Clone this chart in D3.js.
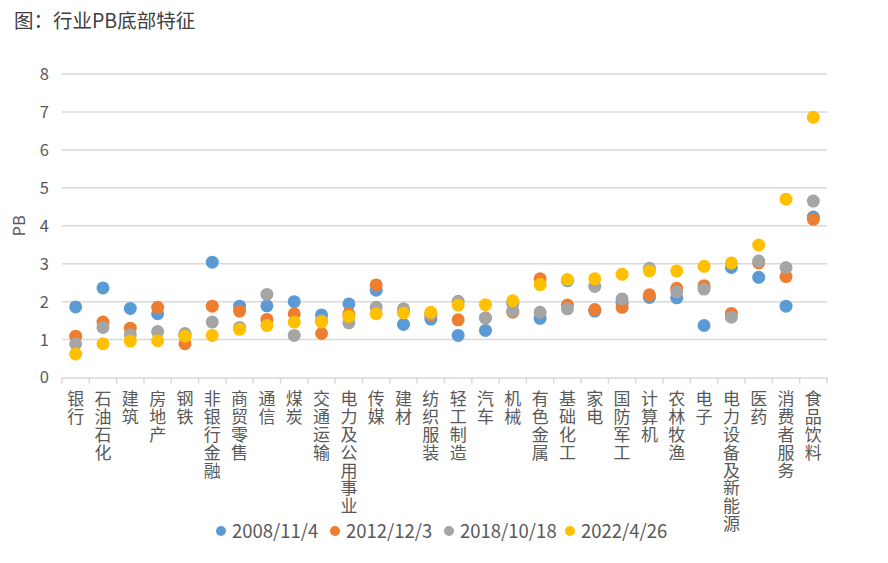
<!DOCTYPE html>
<html>
<head>
<meta charset="utf-8">
<script src="https://cdn.jsdelivr.net/npm/d3@7"></script>
<style>
  html, body { margin: 0; padding: 0; background: #fff; }
  svg { display: block; font-family: "Noto Sans CJK SC", "Noto Sans", sans-serif; }
</style>
</head>
<body>
<svg id="chart" width="888" height="563"></svg>
<script>
const categories = ["银行","石油石化","建筑","房地产","钢铁","非银行金融","商贸零售","通信","煤炭","交通运输","电力及公用事业","传媒","建材","纺织服装","轻工制造","汽车","机械","有色金属","基础化工","家电","国防军工","计算机","农林牧渔","电子","电力设备及新能源","医药","消费者服务","食品饮料"];
const seriesNames = ["2008/11/4","2012/12/3","2018/10/18","2022/4/26"];
const s2008 = [1.86,2.36,1.82,1.68,1.12,3.04,1.88,1.89,2.00,1.65,1.94,2.30,1.40,1.54,1.11,1.24,1.96,1.56,2.55,1.75,1.96,2.11,2.10,1.37,2.90,2.64,1.88,4.23];
const s2012 = [1.09,1.46,1.30,1.85,0.89,1.88,1.75,1.53,1.68,1.16,1.68,2.44,1.75,1.65,1.52,1.57,1.72,2.60,1.91,1.79,1.85,2.18,2.35,2.42,1.69,3.02,2.66,4.17];
const s2018 = [0.89,1.32,1.13,1.21,1.16,1.46,1.32,2.19,1.11,1.50,1.44,1.85,1.81,1.68,2.01,1.57,1.75,1.72,1.81,2.40,2.07,2.88,2.26,2.33,1.59,3.07,2.90,4.65];
const s2022 = [0.62,0.89,0.96,0.97,1.09,1.11,1.27,1.37,1.46,1.46,1.61,1.68,1.70,1.72,1.91,1.92,2.02,2.45,2.58,2.60,2.72,2.81,2.81,2.93,3.02,3.49,4.70,6.86];
const yTicks = [0,1,2,3,4,5,6,7,8];
const colors = ["#5B9BD5","#ED7D31","#A5A5A5","#FFC000"];
const allSeries = [s2008, s2012, s2018, s2022];

const svg = d3.select("#chart");
const plotL = 62, plotR = 827, plotT = 74, plotB = 377.5;

const x = d3.scaleBand().domain(categories).range([plotL, plotR]).paddingInner(0).paddingOuter(0);
const y = d3.scaleLinear().domain([0, 8]).range([plotB, plotT]);

// title
svg.append("text").attr("x", 14).attr("y", 28)
  .attr("font-size", 19.5).attr("fill", "#404040")
  .text("图：行业PB底部特征");

// gridlines
svg.append("g").selectAll("line").data(yTicks.filter(d => d > 0)).join("line")
  .attr("x1", plotL).attr("x2", plotR)
  .attr("y1", d => y(d)).attr("y2", d => y(d))
  .attr("stroke", "#d9d9d9").attr("stroke-width", 1.5);

// y axis labels
svg.append("g").selectAll("text").data(yTicks).join("text")
  .attr("x", 49).attr("y", d => y(d)).attr("dy", "0.36em")
  .attr("text-anchor", "end").attr("font-size", 16.5).attr("fill", "#595959")
  .text(d => d);

svg.append("text")
  .attr("transform", `translate(25, ${(plotT + plotB) / 2}) rotate(-90)`)
  .attr("text-anchor", "middle").attr("font-size", 16.5).attr("fill", "#595959")
  .text("PB");

// x axis line and ticks
const xAxis = d3.axisBottom(x).tickSize(0).tickFormat("");
const gx = svg.append("g").attr("transform", `translate(0, ${plotB})`).call(xAxis);
gx.select(".domain").attr("stroke", "#d9d9d9").attr("stroke-width", 1.5);
const bounds = categories.map(c => x(c)).concat([plotR]);
gx.selectAll(".tickb").data(bounds).join("line").attr("class", "tickb")
  .attr("x1", d => d).attr("x2", d => d).attr("y1", 0).attr("y2", 6)
  .attr("stroke", "#d9d9d9").attr("stroke-width", 1.5);

// vertical category labels
svg.append("g").selectAll("text").data(categories).join("text")
  .attr("x", d => x(d) + x.bandwidth() / 2)
  .attr("y", 390)
  .attr("font-size", 17).attr("fill", "#595959")
  .style("writing-mode", "vertical-rl")
  .style("letter-spacing", "0.9px")
  .text(d => d);

// points
allSeries.forEach((vals, si) => {
  svg.append("g").selectAll("circle").data(vals).join("circle")
    .attr("cx", (v, i) => x(categories[i]) + x.bandwidth() / 2)
    .attr("cy", v => y(v))
    .attr("r", 6.5)
    .attr("fill", colors[si]);
});

// legend
const legendX = [221, 335, 449, 570];
const lg = svg.append("g").selectAll("g").data(seriesNames).join("g")
  .attr("transform", (d, i) => `translate(${legendX[i]}, 531)`);
lg.append("circle").attr("r", 5).attr("fill", (d, i) => colors[i]);
lg.append("text").attr("x", 11).attr("dy", "0.36em")
  .attr("font-size", 18.5).attr("fill", "#595959").text(d => d);
</script>
</body>
</html>
